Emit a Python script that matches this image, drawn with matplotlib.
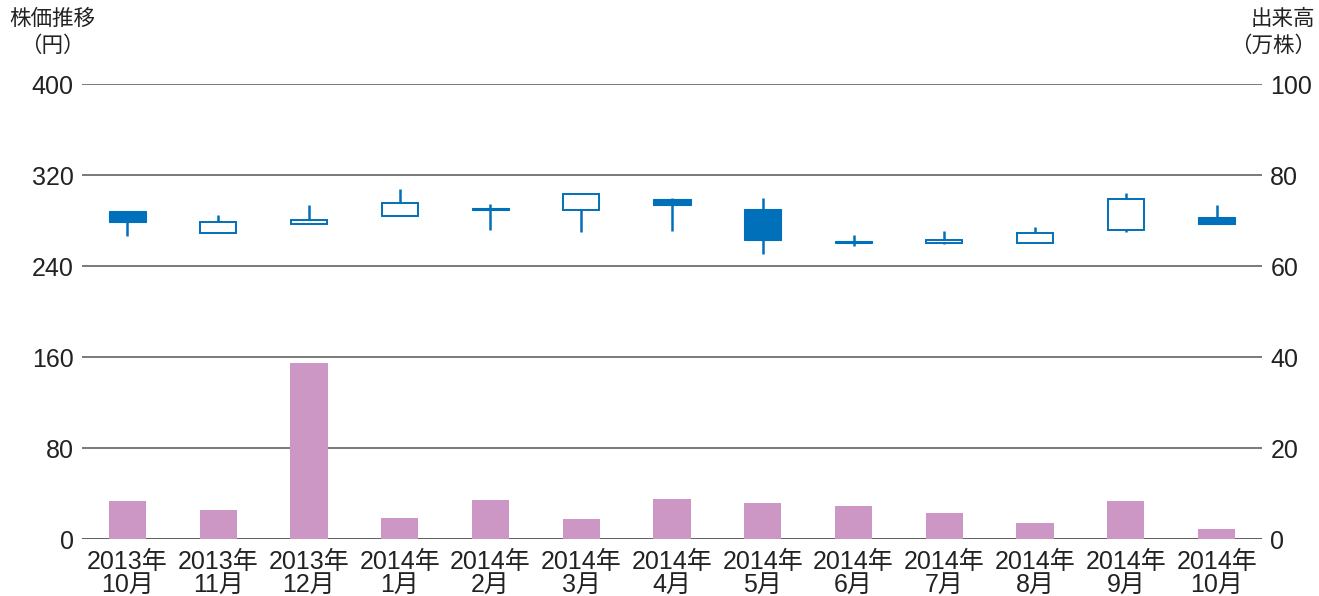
import matplotlib
matplotlib.use("Agg")
import matplotlib.pyplot as plt

# ── Fonts ─────────────────────────────────────────────────────
plt.rcParams["font.family"] = ["Liberation Sans", "Noto Sans CJK JP", "DejaVu Sans"]

# ── Data ──────────────────────────────────────────────────────
months = ["2013年\n10月", "2013年\n11月", "2013年\n12月", "2014年\n1月",
          "2014年\n2月", "2014年\n3月", "2014年\n4月", "2014年\n5月",
          "2014年\n6月", "2014年\n7月", "2014年\n8月", "2014年\n9月",
          "2014年\n10月"]
opens  = [288, 269, 277, 284, 291.0, 289, 299, 290, 262.0, 260, 260.5, 272, 283]
closes = [279, 279, 280.5, 295, 289.5, 303, 294, 263, 260.5, 263, 268.7, 298.6, 277]
highs  = [288, 285, 294, 308, 294.5, 303.5, 299.5, 300, 267.5, 270.5, 274, 304, 294]
lows   = [266.5, 269, 277, 284, 271.5, 270, 271, 250.5, 257.5, 259, 260, 269.5, 277]
volume = [8.35, 6.4, 38.75, 4.6, 8.6, 4.4, 8.8, 7.9, 7.3, 5.7, 3.5, 8.35, 2.2]

left_ticks  = [0, 80, 160, 240, 320, 400]
right_ticks = [0, 20, 40, 60, 80, 100]

# ── Style ─────────────────────────────────────────────────────
BLUE   = "#0070BA"
PURPLE = "#CC96C5"
TEXT   = "#222222"
GRID   = "#555555"
W      = 0.41

fig = plt.figure(figsize=(13.19, 5.96), dpi=100)
ax = fig.add_axes([0.0622, 0.0956, 0.8946, 0.7634])
ax2 = ax.twinx()

x = list(range(len(months)))

# gridlines
for t in left_ticks:
    ax.axhline(t, color=GRID if t else "#333333", linewidth=1.1, zorder=0)

# candles
for i in x:
    o, c, h, l = opens[i], closes[i], highs[i], lows[i]
    top, bot = max(o, c), min(o, c)
    if h > top:
        ax.vlines(i, top, h, color=BLUE, linewidth=1.8, zorder=2)
    if l < bot:
        ax.vlines(i, l, bot, color=BLUE, linewidth=1.8, zorder=2)
    if c >= o:
        ax.bar(i, top - bot, bottom=bot, width=W - 0.015, facecolor="white",
               edgecolor=BLUE, linewidth=1.4, zorder=3)
    else:
        ax.bar(i, top - bot, bottom=bot, width=W, facecolor=BLUE,
               edgecolor=BLUE, linewidth=0.8, zorder=3)

# volume bars on right axis
ax2.bar(x, volume, width=W, color=PURPLE, zorder=3)

ax.set_xlim(-0.5, len(months) - 0.5)
ax.set_ylim(0, 400)
ax2.set_ylim(0, 100)

ax.set_yticks(left_ticks)
ax2.set_yticks(right_ticks)
ax.set_xticks(x)
ax.set_xticklabels(months, fontsize=16, color=TEXT, linespacing=0.95)

for a in (ax, ax2):
    for s in a.spines.values():
        s.set_visible(False)
    a.tick_params(length=0, labelsize=18, colors=TEXT)
ax.tick_params(axis="y", pad=6)
ax2.tick_params(axis="y", pad=6)
ax.tick_params(axis="x", pad=8)

fig.text(0.007, 0.968, "株価推移", fontsize=15.5, color=TEXT, ha="left", va="center")
fig.text(0.040, 0.922, "（円）", fontsize=15.5, color=TEXT, ha="center", va="center")
fig.text(0.997, 0.968, "出来高", fontsize=15.5, color=TEXT, ha="right", va="center")
fig.text(0.998, 0.922, "（万株）", fontsize=15.5, color=TEXT, ha="right", va="center")

fig.savefig("out.png", dpi=100, facecolor="white")
